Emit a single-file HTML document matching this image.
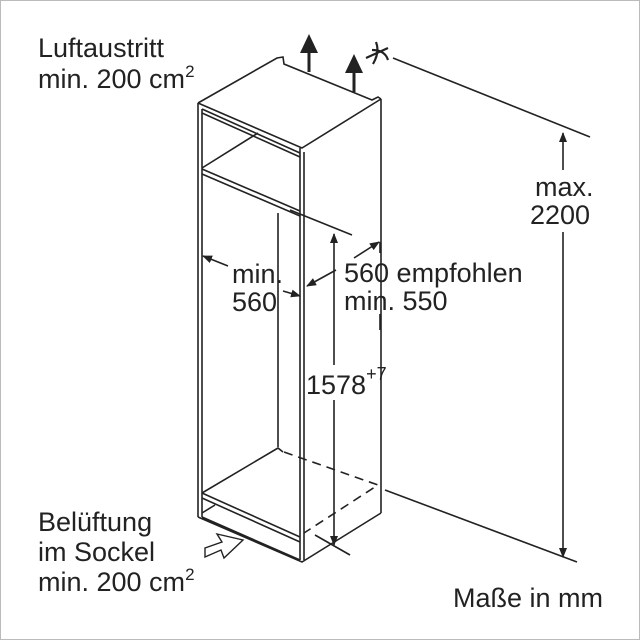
<!DOCTYPE html>
<html><head><style>html,body{margin:0;padding:0;background:#fff}svg{display:block}</style></head><body>
<svg width="640" height="640" viewBox="0 0 640 640" xmlns="http://www.w3.org/2000/svg" font-family="Liberation Sans, sans-serif" fill="none" stroke="#222" stroke-width="1.6">
<rect x="0.5" y="0.5" width="639" height="639" stroke="#bbb" stroke-width="1"/>
<defs><marker id="a" markerWidth="10" markerHeight="8" refX="9" refY="4" orient="auto" markerUnits="userSpaceOnUse"><path d="M0,0 L10,4 L0,8 Z" fill="#222" stroke="none"/></marker></defs>
<!-- top face -->
<path d="M198,103 L277,58 L283,57 L284,64 L372,100 L378,97 L381,99"/>
<path d="M198,103 L302,148 L381,99"/>
<path d="M198,103 V517 M202,109 V517"/>
<path d="M300,148 V560 M304,152 V560"/>
<path d="M381,99 V513"/>
<path d="M202,109 L300,153 M202,113 L300,157"/>
<path d="M202,169 L300,211 M202,174 L300,216"/>
<path d="M202,168 L258,133"/>
<path d="M278,213 V447"/>
<path d="M202,493 L278,448 L283,452"/>
<path d="M202,493 L300,537 M202,498 L300,542"/>
<path d="M202,517 L300,560 M198,517 L302,562 L381,513"/>
<path d="M202,513 L215,505"/>
<path d="M284,452 L378,485 L304,533" stroke-dasharray="9,6"/>
<!-- arrows top -->
<path d="M309,72 V52" stroke-width="3"/>
<path d="M300,53 L309,34 L318,53 Z" fill="#222" stroke="none"/>
<path d="M354,92 V72" stroke-width="3"/>
<path d="M345,73 L354,54 L363,73 Z" fill="#222" stroke="none"/>
<path d="M366,58 L388,48 M376,42 Q380,52 373,64 M372,50 Q385,50 388,60" stroke-width="2.2"/>
<!-- max 2200 -->
<path d="M393,58 L590,137"/>
<path d="M563,170 V133" marker-end="url(#a)"/>
<path d="M563,232 V557" marker-end="url(#a)"/>
<path d="M385,490 L577,562"/>
<!-- 1578 -->
<path d="M290,210 L352,235"/>
<path d="M334,365 V234" marker-end="url(#a)"/>
<path d="M334,400 V545" marker-end="url(#a)"/>
<path d="M315,535 L350,555"/>
<path d="M228,266 L203,256" marker-end="url(#a)"/>
<path d="M283,291 L300,296" marker-end="url(#a)"/>
<path d="M336,270 L307,286" marker-end="url(#a)"/>
<path d="M354,258 L379,242" marker-end="url(#a)"/>
<path d="M380,242 V253 M380,314 V330"/>
<!-- inlet arrow -->
<path d="M205,557 L221,550 L224,558 L243,540 L217,534 L222,542 L205,548 Z" stroke-width="1.4" fill="#fff"/>
<g fill="#222" stroke="none" font-size="27">
<text x="38" y="57">Luftaustritt</text>
<text x="38" y="88">min. 200 cm<tspan font-size="17" dy="-11">2</tspan></text>
<text x="232" y="283">min.</text>
<text x="232" y="311">560</text>
<text x="344" y="282">560 empfohlen</text>
<text x="344" y="310">min. 550</text>
<text x="535" y="196">max.</text>
<text x="530" y="224">2200</text>
<text x="306" y="394">1578<tspan font-size="18" dy="-14">+7</tspan></text>
<text x="38" y="531">Belüftung</text>
<text x="38" y="561">im Sockel</text>
<text x="38" y="591">min. 200 cm<tspan font-size="17" dy="-11">2</tspan></text>
<text x="453" y="607">Maße in mm</text>
</g>
</svg>
</body></html>
